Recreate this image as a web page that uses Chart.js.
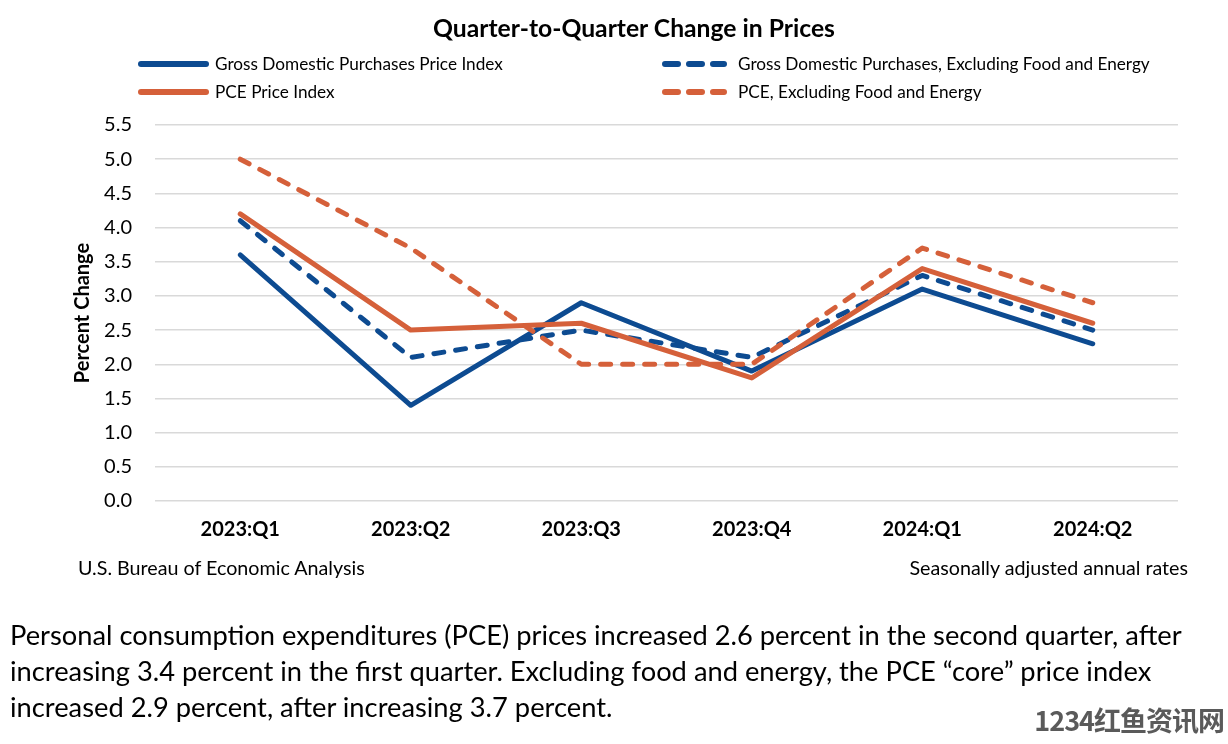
<!DOCTYPE html>
<html>
<head>
<meta charset="utf-8">
<script src="https://cdn.jsdelivr.net/npm/chart.js@4"></script>
<style>
  body { margin:0; background:#fff; font-family: Lato, "Noto Sans", sans-serif; color:#000; }
  #wrap { position:relative; width:1228px; height:744px; overflow:hidden; }
  #myChart { position:absolute; left:0; top:0; }
  .abs { position:absolute; white-space:nowrap; }
  #title { left:0; width:1268px; top:13px; text-align:center; font-weight:bold; font-size:24.7px; }
  .leg { position:absolute; display:flex; align-items:center; font-size:17.2px; }
  #src { left:78px; top:556px; font-size:19.7px; }
  #note { right:40px; top:556px; font-size:19.7px; }
  #para { left:10px; top:617px; font-size:27.3px; line-height:36px; }
  #wm { right:4px; top:700px; font-size:27px; font-weight:bold; color:#5a5a5a; font-family:"Noto Sans CJK SC", sans-serif; letter-spacing:-1px; }
</style>
</head>
<body>
<div id="wrap">
  <canvas id="myChart" width="1228" height="744"></canvas>
  <div class="abs" id="title">Quarter-to-Quarter Change in Prices</div>
  <div id="legend"></div>
  <div class="abs" id="src">U.S. Bureau of Economic Analysis</div>
  <div class="abs" id="note">Seasonally adjusted annual rates</div>
  <div class="abs" id="para">Personal consumption expenditures (PCE) prices increased 2.6 percent in the second quarter, after<br>increasing 3.4 percent in the first quarter. Excluding food and energy, the PCE “core” price index<br>increased 2.9 percent, after increasing 3.7 percent.</div>
  <div class="abs" id="wm">1234红鱼资讯网</div>
</div>
<script>
const quarters = ['2023:Q1','2023:Q2','2023:Q3','2023:Q4','2024:Q1','2024:Q2'];
const gdpPrice   = [3.6, 1.4, 2.9, 1.9, 3.1, 2.3];
const gdpCore    = [4.1, 2.1, 2.5, 2.1, 3.3, 2.5];
const pcePrice   = [4.2, 2.5, 2.6, 1.8, 3.4, 2.6];
const pceCore    = [5.0, 3.7, 2.0, 2.0, 3.7, 2.9];
const yTicks = [0, 0.5, 1, 1.5, 2, 2.5, 3, 3.5, 4, 4.5, 5, 5.5];

const blue = '#0d4b91';
const orange = '#d5603a';
const dash = [10, 12];

const series = [
  {label:'Gross Domestic Purchases Price Index', data:gdpPrice, color:blue, dashed:false},
  {label:'Gross Domestic Purchases, Excluding Food and Energy', data:gdpCore, color:blue, dashed:true},
  {label:'PCE Price Index', data:pcePrice, color:orange, dashed:false},
  {label:'PCE, Excluding Food and Energy', data:pceCore, color:orange, dashed:true}
];

// legend (2 x 2 grid like the original)
const legPos = [[138,53],[662,53],[138,81],[662,81]];
const legend = document.getElementById('legend');
series.forEach((s,i)=>{
  const d = document.createElement('div');
  d.className = 'leg';
  d.style.left = legPos[i][0] + 'px';
  d.style.top = legPos[i][1] + 'px';
  const w = s.dashed ? 59 : 65;
  const gap = s.dashed ? 11 : 6;
  d.innerHTML = '<svg width="'+(w+6)+'" height="10" style="margin-right:'+gap+'px"><line x1="3" y1="5" x2="'+(w+3)+'" y2="5" stroke="'+s.color+
    '" stroke-width="6" stroke-linecap="round"'+(s.dashed?' stroke-dasharray="13 11"':'')+'/></svg>' + s.label;
  legend.appendChild(d);
});

const ctx = document.getElementById('myChart');
const dataChart = new Chart(ctx, {
  type: 'line',
  data: {
    labels: quarters,
    datasets: series.map((s,i)=>({
      label: s.label,
      data: s.data,
      borderColor: s.color,
      backgroundColor: s.color,
      borderWidth: 5,
      borderDash: s.dashed ? dash : [],
      borderCapStyle: 'round',
      borderJoinStyle: 'round',
      pointRadius: 0,
      tension: 0,
      order: 3 - i
    }))
  },
  options: {
    responsive: false,
    animation: false,
    layout: { padding: { top:125, right:50, left:0, bottom:0 } },
    plugins: { legend: { display:false }, tooltip: { enabled:false } },
    scales: {
      x: {
        offset: true,
        grid: { display:false, drawTicks:false },
        border: { display:false },
        ticks: { color:'#000', padding:17, font:{ family:'Lato', size:20, weight:'bold' } },
        afterFit: (scale)=>{ scale.height = 243; }
      },
      y: {
        min: 0,
        max: 5.5,
        afterBuildTicks: (scale)=>{ scale.ticks = yTicks.map(v=>({value:v})); },
        grid: { color:'#d9d9d9', lineWidth:1.5, drawTicks:false },
        border: { display:false },
        ticks: { color:'#000', padding:23, font:{ family:'Lato', size:20 }, callback:(v)=>Number(v).toFixed(1) },
        title: { display:true, text:'Percent Change', color:'#000', padding:{top:71}, font:{ family:'Lato', size:20, weight:'bold' } },
        afterFit: (scale)=>{ scale.width = 155; }
      }
    }
  }
});
</script>
</body>
</html>
